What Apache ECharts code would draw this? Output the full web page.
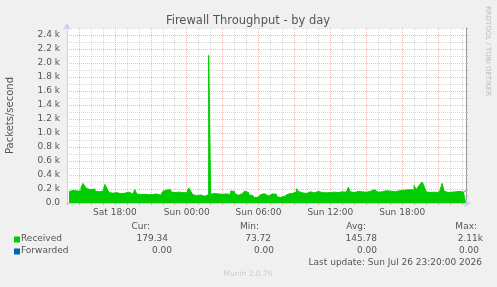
<!DOCTYPE html>
<html>
<head>
<meta charset="UTF-8">
<title>Firewall Throughput - by day</title>
<script src="https://cdn.jsdelivr.net/npm/echarts@6/dist/echarts.min.js"></script>
<style>
  html, body { margin: 0; padding: 0; background: #f0f0f0; }
  #main { width: 497px; height: 287px; }
</style>
</head>
<body>
<div id="main"></div>
<script>
// received packets/second, one value per 10 minutes, Sat 14:10 .. Sun 23:20
var received = [
  160,175,180,165,172,185,170,215,280,235,205,190,185,200,170,160,182,168,190,265,
  210,150,140,135,148,160,132,150,140,138,155,145,130,150,190,130,120,115,125,110,
  118,130,122,115,128,120,112,125,165,185,175,190,160,150,145,155,140,150,160,145,
  150,215,170,120,105,100,115,110,95,110,120,2110,125,135,120,130,140,125,115,130,
  135,120,170,165,135,110,130,135,120,170,150,115,110,85,74,85,100,120,133,110,
  100,120,130,135,125,90,78,80,95,120,130,140,135,150,160,205,165,145,150,135,
  155,160,140,145,150,165,140,150,155,145,160,150,140,155,165,150,145,160,150,155,
  170,225,160,150,155,165,150,160,170,155,150,165,160,190,165,155,170,160,165,175,
  160,170,165,160,175,170,165,180,175,185,195,190,200,185,250,190,230,270,300,240,
  160,150,165,155,170,150,160,180,280,170,150,160,155,175,160,150,165,190,155,179
];

// time axis in hours counted from Sat 00:00
var startHour = 14;
var endHour = 47 + 1 / 3;
var stepHour = 1 / 6;
var xLabelHours = [18, 24, 30, 36, 42];
var xLabelText = ['Sat 18:00', 'Sun 00:00', 'Sun 06:00', 'Sun 12:00', 'Sun 18:00'];

var yMax = 2500;

// legend table
var legendNames = ['Received', 'Forwarded'];
var legendColors = ['#00cc00', '#0066b3'];
var statHeads = ['Cur:', 'Min:', 'Avg:', 'Max:'];
var statReceived = ['179.34', '73.72', '145.78', '2.11k'];
var statForwarded = ['0.00', '0.00', '0.00', '0.00'];
var lastUpdate = 'Last update: Sun Jul 26 23:20:00 2026';

var FONT = 'DejaVu Sans';
var minorGrid = 'rgba(150,150,150,0.35)';
var majorGrid = 'rgba(210,110,110,0.45)';

var points = received.map(function (v, i) {
  return [startHour + (i + 1) * stepHour, v];
});

function txt(x, y, text, size, color, align, extra) {
  var el = {
    type: 'text', x: x, y: y, silent: true,
    style: {
      text: text, fill: color, font: size + 'px "' + FONT + '"',
      textAlign: align, textVerticalAlign: 'middle'
    }
  };
  if (extra) for (var k in extra) el[k] = extra[k];
  return el;
}

var graphics = [
  txt(248, 21, 'Firewall Throughput - by day', 11.5, '#555', 'center'),
  txt(487.5, 51, 'RRDTOOL / TOBI OETIKER', 7, '#bbb', 'center', { rotation: -Math.PI / 2 }),
  txt(248, 274, 'Munin 2.0.76', 7.5, '#ccc', 'center'),
  txt(482, 263, lastUpdate, 9, '#555', 'right')
];

var headX = [150, 259, 366, 477];
var recX = [168, 271, 377, 483];
var fwdX = [172, 274, 377, 479];
statHeads.forEach(function (h, i) {
  graphics.push(txt(headX[i], 227, h, 9, '#555', 'right'));
  graphics.push(txt(recX[i], 239, statReceived[i], 9, '#555', 'right'));
  graphics.push(txt(fwdX[i], 251, statForwarded[i], 9, '#555', 'right'));
});
legendNames.forEach(function (n, i) {
  var y = 239 + i * 12;
  graphics.push({ type: 'rect', silent: true, shape: { x: 14, y: y - 2.5, width: 6, height: 6 },
    style: { fill: legendColors[i] } });
  graphics.push(txt(21, y, n, 9, '#555', 'left'));
});

var chart = echarts.init(document.getElementById('main'));
chart.setOption({
  animation: false,
  backgroundColor: '#f0f0f0',
  grid: { left: 67, right: 31, top: 28, bottom: 84, show: true, backgroundColor: '#fff', borderWidth: 0,
    containLabel: false, outerBoundsMode: 'none' },
  xAxis: {
    type: 'value', min: startHour, max: endHour, interval: 1,
    axisLine: { show: true, symbol: ['none', 'arrow'], symbolSize: [6, 7], symbolOffset: [0, 5],
      lineStyle: { color: '#c8cff5' } },
    axisTick: { show: true, length: 2, lineStyle: { color: '#d9a0a0' } },
    axisLabel: {
      fontSize: 9, fontFamily: FONT, color: '#555', margin: 5,
      formatter: function (v) {
        var k = xLabelHours.indexOf(Math.round(v * 1000) / 1000);
        return k >= 0 ? xLabelText[k] : '';
      }
    },
    splitLine: { show: true, showMaxLine: false,
      lineStyle: { color: [minorGrid, majorGrid, minorGrid], type: [1, 1], width: 1 } }
  },
  yAxis: [{
    type: 'value', min: 0, max: yMax, interval: 100, position: 'left',
    name: 'Packets/second', nameLocation: 'middle', nameGap: 52,
    nameTextStyle: { fontSize: 10, fontFamily: FONT, color: '#555' },
    axisLine: { show: true, symbol: ['none', 'arrow'], symbolSize: [6, 7], symbolOffset: [0, 5],
      lineStyle: { color: '#c8cff5' } },
    axisTick: { show: false },
    axisLabel: {
      fontSize: 9, fontFamily: FONT, color: '#555', margin: 7,
      formatter: function (v) {
        if (v % 200 !== 0) return '';
        return v === 0 ? '0.0' : (v / 1000).toFixed(1) + ' k';
      }
    },
    splitLine: { show: true, lineStyle: { color: [majorGrid, minorGrid], type: [1, 1], width: 1 } }
  }, {
    type: 'value', min: 0, max: yMax, interval: 100, position: 'right',
    axisLine: { show: true, lineStyle: { color: '#999' } },
    axisTick: { show: true, length: 2, lineStyle: { color: '#c9a9a9' } },
    axisLabel: { show: false },
    splitLine: { show: false }
  }],
  series: [{
    name: 'Received', type: 'line', data: points, showSymbol: false, step: 'start',
    lineStyle: { width: 1, color: '#00cc00' },
    areaStyle: { color: '#00cc00', opacity: 1 },
    z: 3
  }],
  graphic: graphics
});
</script>
</body>
</html>
